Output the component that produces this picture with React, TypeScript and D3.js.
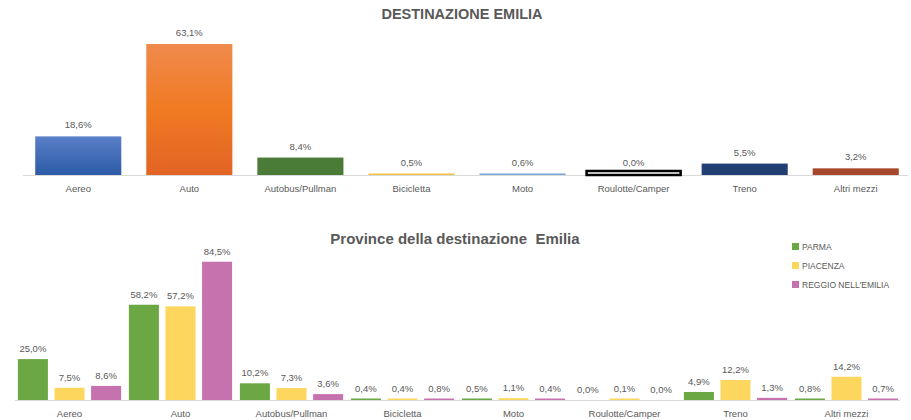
import React from 'react';
import * as d3 from 'd3';

const categories = ['Aereo', 'Auto', 'Autobus/Pullman', 'Bicicletta', 'Moto', 'Roulotte/Camper', 'Treno', 'Altri mezzi'];
const emiliaValues = [18.6, 63.1, 8.4, 0.5, 0.6, 0.0, 5.5, 3.2];
const emiliaColors = ['url(#gBlue)', 'url(#gOrange)', '#4b7c37', '#f3c245', '#7aa4d8', '#ffffff', '#223f74', '#a5472a'];

const provinces = ['PARMA', 'PIACENZA', "REGGIO NELL'EMILIA"];
const parmaValues = [25.0, 58.2, 10.2, 0.4, 0.5, 0.0, 4.9, 0.8];
const piacenzaValues = [7.5, 57.2, 7.3, 0.4, 1.1, 0.1, 12.2, 14.2];
const reggioValues = [8.6, 84.5, 3.6, 0.8, 0.4, 0.0, 1.3, 0.7];
const provinceColors = ['#6ba843', '#fdd65e', '#c672ae'];

const W = 911;
const H = 420;
const font = '"Liberation Sans", Arial, sans-serif';
const grey = '#595959';
const fmt = (v: number) => d3.format('.1f')(v).replace('.', ',') + '%';

export default function App() {
  // top chart
  const x1 = d3.scaleBand().domain(categories).range([23, 911]).paddingInner(0.225).paddingOuter(0.11);
  const y1 = d3.scaleLinear().domain([0, 70]).range([175, 29.7]);

  // bottom chart
  const series = [parmaValues, piacenzaValues, reggioValues];
  const x2 = d3.scaleBand().domain(categories).range([14, 902]).paddingInner(0.07).paddingOuter(0.035);
  const xs = d3.scaleBand().domain(provinces).range([0, x2.bandwidth()]).paddingInner(0.18);
  const y2 = d3.scaleLinear().domain([0, 90]).range([400, 252.7]);

  return (
    <svg width={W} height={H} style={{ position: 'absolute', left: 0, top: 0, background: '#fff' }} fontFamily={font}>
      <defs>
        <linearGradient id="gBlue" x1="0" y1="0" x2="0" y2="1">
          <stop offset="0" stopColor="#5a80c8" />
          <stop offset="1" stopColor="#2c5aa6" />
        </linearGradient>
        <linearGradient id="gOrange" x1="0" y1="0" x2="0" y2="1">
          <stop offset="0" stopColor="#ef8a4c" />
          <stop offset="0.5" stopColor="#f07a22" />
          <stop offset="1" stopColor="#e26425" />
        </linearGradient>
      </defs>

      {/* top chart */}
      <text x={462} y={19} textAnchor="middle" fontSize={14.5} fontWeight="bold" fill={grey}>DESTINAZIONE EMILIA</text>
      <line x1={23} x2={908} y1={175.5} y2={175.5} stroke="#d9d9d9" />
      {categories.map((c, i) => {
        const v = emiliaValues[i];
        const top = y1(v);
        const h = Math.max(y1(0) - top, 1.5);
        const isZero = v === 0;
        return (
          <g key={c}>
            {isZero ? (
              <rect x={x1(c)! - 4} y={y1(0) - 4} width={x1.bandwidth() + 8} height={4} fill="#fff" stroke="#000" strokeWidth={2.5} />
            ) : (
              <rect x={x1(c)!} y={y1(0) - h} width={x1.bandwidth()} height={h} fill={emiliaColors[i]} />
            )}
            <text x={x1(c)! + x1.bandwidth() / 2} y={y1(0) - h - 8} textAnchor="middle" fontSize={9.5} fill={grey}>{fmt(v)}</text>
            <text x={x1(c)! + x1.bandwidth() / 2} y={192} textAnchor="middle" fontSize={9.5} fill={grey}>{c}</text>
          </g>
        );
      })}

      {/* bottom chart */}
      <text x={455} y={244} textAnchor="middle" fontSize={15} fontWeight="bold" fill={grey} style={{ whiteSpace: 'pre' }}>Province della destinazione  Emilia</text>
      <line x1={15} x2={900} y1={400.5} y2={400.5} stroke="#d9d9d9" />
      {categories.map((c, i) => (
        <g key={c} transform={`translate(${x2(c)},0)`}>
          {provinces.map((p, j) => {
            const v = series[j][i];
            const h = v === 0 ? 0 : Math.max(y2(0) - y2(v), 1.5);
            return (
              <g key={p}>
                <rect x={xs(p)!} y={y2(0) - h} width={xs.bandwidth()} height={h} fill={provinceColors[j]} />
                <text x={xs(p)! + xs.bandwidth() / 2} y={y2(0) - h - 7} textAnchor="middle" fontSize={9.5} fill={grey}>{fmt(v)}</text>
              </g>
            );
          })}
          <text x={x2.bandwidth() / 2} y={417} textAnchor="middle" fontSize={9.5} fill={grey}>{c}</text>
        </g>
      ))}

      {/* legend */}
      {provinces.map((p, j) => (
        <g key={p} transform={`translate(792,${243 + j * 19})`}>
          <rect x={0} y={0} width={7} height={7} fill={provinceColors[j]} />
          <text x={10} y={7} fontSize={8.5} fill={grey}>{p}</text>
        </g>
      ))}
    </svg>
  );
}
